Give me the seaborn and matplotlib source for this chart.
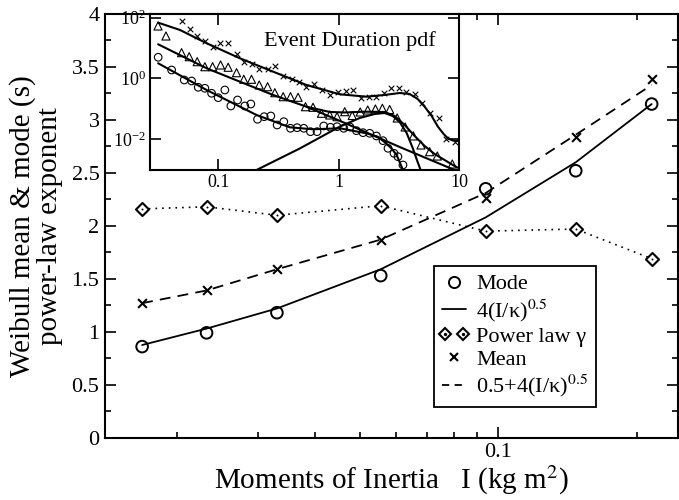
import matplotlib
matplotlib.use('Agg')
import matplotlib.pyplot as plt
import seaborn as sns
from matplotlib.lines import Line2D
from matplotlib.legend_handler import HandlerLine2D
from matplotlib.ticker import LogLocator, NullFormatter, NullLocator, MultipleLocator

# ---------------- main panel data ----------------
inertia = [0.0168, 0.0232, 0.0330, 0.0555, 0.0939, 0.1474, 0.2156]
mode_s = [0.86, 0.99, 1.18, 1.53, 2.35, 2.52, 3.15]
mean_s = [1.27, 1.39, 1.59, 1.87, 2.26, 2.84, 3.39]
gamma = [2.16, 2.18, 2.10, 2.19, 1.95, 1.97, 1.69]
fit_mode = [0.875, 1.03, 1.22, 1.59, 2.08, 2.60, 3.15]
fit_mean = [1.27, 1.39, 1.59, 1.87, 2.31, 2.86, 3.33]
y_ticks = [0, 0.5, 1, 1.5, 2, 2.5, 3, 3.5, 4]
y_tick_labels = ['0', '0.5', '1', '1.5', '2', '2.5', '3', '3.5', '4']

# ---------------- inset data (event duration pdf) ----------------
cross_x = [0.0497, 0.0583, 0.0670, 0.0776, 0.0899, 0.104, 0.120, 0.142, 0.163, 0.189, 0.219, 0.257,
           0.295, 0.346, 0.406, 0.469, 0.540, 0.621, 0.733, 0.842, 0.987, 1.143, 1.314, 1.542,
           1.782, 2.052, 2.373, 2.733, 3.159, 3.639, 4.263, 4.937, 5.75, 6.74, 7.80, 9.14]
cross_y = [76.1, 41.8, 25.0, 17.1, 10.9, 14.4, 14.4, 6.30, 3.57, 3.00, 2.01, 2.01,
           2.64, 1.21, 0.985, 0.785, 0.537, 0.659, 0.418, 0.287, 0.368, 0.397, 0.428, 0.228,
           0.241, 0.241, 0.341, 0.476, 0.476, 0.368, 0.302, 0.153, 0.0717, 0.0491, 0.0100, 0.00834]
tri_x = [0.0317, 0.0369, 0.0497, 0.0575, 0.0670, 0.0776, 0.0899, 0.1047, 0.121, 0.142, 0.163, 0.189,
         0.219, 0.257, 0.295, 0.346, 0.398, 0.460, 0.530, 0.612, 0.719, 0.842, 0.968, 1.121,
         1.294, 1.507, 1.739, 2.014, 2.301, 2.646, 3.053, 3.556, 4.159, 4.808, 5.675, 6.57, 8.75]
tri_y = [53.3, 25.0, 7.06, 5.21, 3.57, 2.44, 2.44, 2.78, 2.34, 1.55, 0.941, 0.941,
         0.611, 0.537, 0.341, 0.252, 0.252, 0.241, 0.118, 0.113, 0.0717, 0.0631, 0.0554, 0.0809,
         0.0607, 0.0791, 0.092, 0.0993, 0.1047, 0.0955, 0.0502, 0.0254, 0.0129, 0.0065, 0.00391,
         0.00282, 0.00154]
circ_x = [0.0318, 0.0411, 0.0523, 0.0602, 0.0683, 0.0776, 0.0882, 0.100, 0.1136, 0.1274, 0.1448,
          0.1664, 0.1866, 0.2120, 0.2405, 0.2733, 0.3083, 0.3502, 0.398, 0.4514, 0.5129, 0.5827,
          0.661, 0.751, 0.853, 0.968, 1.100, 1.240, 1.402, 1.590, 1.806, 2.053, 2.328, 2.562,
          2.873, 3.097, 3.410]
circ_y = [4.98, 1.90, 0.893, 0.828, 0.513, 0.476, 0.326, 0.2335, 0.418, 0.1246, 0.196,
          0.1246, 0.145, 0.0455, 0.0554, 0.0584, 0.0295, 0.0379, 0.0230, 0.0241, 0.0230, 0.0178,
          0.0178, 0.0274, 0.0248, 0.0260, 0.0230, 0.0254, 0.0192, 0.0165, 0.01575, 0.01284, 0.0090,
          0.00506, 0.00346, 0.00268, 0.00143]

fit_cross_x = [0.0318, 0.0482, 0.0802, 0.1513, 0.2857, 0.540, 1.019, 1.696, 2.405, 3.202, 3.873,
               4.513, 5.159, 5.895, 6.646, 7.413, 8.045, 8.80, 9.86]
fit_cross_y = [68.5, 39.4, 14.4, 4.62, 1.674, 0.611, 0.302, 0.252, 0.287, 0.333, 0.309,
               0.212, 0.118, 0.0584, 0.0260, 0.01494, 0.01079, 0.00914, 0.00879]
fit_tri_x = [0.0318, 0.0802, 0.1513, 0.2857, 0.540, 0.842, 1.121, 1.642, 2.405, 2.911, 3.523,
             4.263, 5.159, 6.24, 7.55, 9.14, 9.86]
fit_tri_y = [13.3, 2.165, 0.785, 0.287, 0.118, 0.0791, 0.0762, 0.0809, 0.0791, 0.0584, 0.0295,
             0.01284, 0.00602, 0.00328, 0.00208, 0.00132, 0.00114]
pl_tri_x = [0.540, 1.121, 3.202, 9.14]
pl_tri_y = [0.118, 0.0344, 0.00558, 0.000977]
weib_x = [0.208, 0.475, 1.019, 1.493, 1.987, 2.405, 2.800, 3.202, 3.659, 4.105, 4.513, 4.779]
weib_y = [0.000977, 0.00498, 0.0260, 0.0502, 0.0679, 0.0733, 0.0584, 0.0371, 0.0161, 0.00518,
          0.00179, 0.000977]
fit_circ_x = [0.0318, 0.0802, 0.208, 0.393, 0.612, 1.019, 1.696, 2.104, 2.451, 2.733, 3.024, 3.410]
fit_circ_y = [3.16, 0.418, 0.0630, 0.0248, 0.0213, 0.0230, 0.01575, 0.01218, 0.00755, 0.00506,
              0.00302, 0.000977]

# ---------------- style ----------------
sns.set_theme(style='ticks', rc={
    'axes.edgecolor': 'black', 'xtick.color': 'black', 'ytick.color': 'black',
    'text.color': 'black', 'axes.labelcolor': 'black', 'axes.linewidth': 1.5,
})
plt.rcParams['font.family'] = ['Liberation Serif', 'DejaVu Serif']
plt.rcParams['mathtext.fontset'] = 'stix'

K = 'black'
fig = plt.figure(figsize=(6.79, 5.0), dpi=100)

W, H = 679.0, 500.0
ax = fig.add_axes([105 / W, 1 - 437.7 / H, (678 - 105) / W, (437.7 - 14) / H])
ax.set_xscale('log')
ax.set_xlim(0.01395, 0.246)
ax.set_ylim(0, 4)

# lines
sns.lineplot(x=inertia, y=fit_mode, ax=ax, color=K, lw=1.3, estimator=None)
sns.lineplot(x=inertia, y=fit_mean, ax=ax, color=K, lw=1.3, estimator=None, linestyle=(0, (6, 4)))
sns.lineplot(x=inertia, y=gamma, ax=ax, color=K, lw=1.2, estimator=None, linestyle=(0, (1, 3)))
# markers
sns.scatterplot(x=inertia, y=mode_s, ax=ax, marker='o', s=70, facecolor='none', edgecolor=K,
                linewidth=1.4, zorder=5)
sns.scatterplot(x=inertia, y=mean_s, ax=ax, marker='x', s=40, color=K, linewidth=1.5, zorder=5)
sns.scatterplot(x=inertia, y=gamma, ax=ax, marker='D', s=44, facecolor='white', edgecolor=K,
                linewidth=1.5, zorder=5)
sns.scatterplot(x=inertia, y=gamma, ax=ax, marker='o', s=2, color=K, linewidth=0, zorder=6)

ax.xaxis.set_major_locator(LogLocator(base=10))
ax.xaxis.set_minor_locator(LogLocator(base=10, subs=[2, 3, 4, 5, 6, 7, 8, 9]))
ax.xaxis.set_minor_formatter(NullFormatter())
ax.set_xticks([0.1])
ax.set_xticklabels(['0.1'])
ax.set_yticks(y_ticks)
ax.set_yticklabels(y_tick_labels)
ax.yaxis.set_minor_locator(MultipleLocator(0.25))
ax.tick_params(which='both', direction='in', top=True, right=True, width=1.2, labelsize=16, pad=4)
ax.tick_params(which='major', length=8)
ax.tick_params(which='minor', length=4)
for sp in ax.spines.values():
    sp.set_linewidth(1.5)

ax.set_xlabel('Moments of Inertia   I (kg m$^2$)', fontsize=21, labelpad=1)
ax.set_ylabel('Weibull mean & mode (s)\npower-law exponent', fontsize=21, linespacing=1.05,
              labelpad=6)

# legend
h_mode = Line2D([], [], ls='none', marker='o', mfc='none', mec=K, ms=8, mew=1.4)
h_fit = Line2D([], [], color=K, lw=1.3)
h_gam = Line2D([], [], ls='none', marker='D', mfc='white', mec=K, ms=6, mew=1.5)
h_gdot = Line2D([], [], ls='none', marker='o', mfc=K, mec=K, ms=1.4)
h_mean = Line2D([], [], ls='none', marker='x', color=K, ms=6, mew=1.5)
h_fit2 = Line2D([], [], color=K, lw=1.3, ls=(0, (4, 3)))
leg = ax.legend([h_mode, h_fit, (h_gam, h_gdot), h_mean, h_fit2],
                ['Mode', '4(I/κ)$^{0.5}$', 'Power law γ', 'Mean', '0.5+4(I/κ)$^{0.5}$'],
                handler_map={h_gam: HandlerLine2D(numpoints=2, marker_pad=0.15),
                             h_gdot: HandlerLine2D(numpoints=2, marker_pad=0.15)},
                loc='lower left', bbox_to_anchor=(0.574, 0.0725), borderaxespad=0,
                fontsize=16, handlelength=1.1, handletextpad=0.45, labelspacing=0.12,
                borderpad=0.35, fancybox=False, framealpha=1, edgecolor=K, numpoints=1)
leg.get_frame().set_linewidth(1.3)

# ---------------- inset ----------------
axi = fig.add_axes([150 / W, 1 - 170 / H, (459.3 - 150) / W, (170 - 14) / H])
axi.set_facecolor('white')
axi.set_xscale('log')
axi.set_yscale('log')
axi.set_xlim(0.0272, 10)
axi.set_ylim(0.000977, 132)

for fx, fy in [(fit_cross_x, fit_cross_y), (fit_tri_x, fit_tri_y), (pl_tri_x, pl_tri_y),
               (weib_x, weib_y), (fit_circ_x, fit_circ_y)]:
    sns.lineplot(x=fx, y=fy, ax=axi, color=K, lw=1.5, estimator=None)

sns.scatterplot(x=cross_x, y=cross_y, ax=axi, marker='x', s=16, color=K, linewidth=0.8, zorder=5)
sns.scatterplot(x=tri_x, y=tri_y, ax=axi, marker='^', s=34, facecolor='none', edgecolor=K,
                linewidth=0.8, zorder=5)
sns.scatterplot(x=circ_x, y=circ_y, ax=axi, marker='o', s=30, facecolor='none', edgecolor=K,
                linewidth=0.8, zorder=5)

axi.set_xticks([0.1, 1, 10])
axi.set_xticklabels(['0.1', '1', '10'])
axi.set_yticks([1e-2, 1, 1e2])
axi.xaxis.set_minor_locator(NullLocator())
axi.yaxis.set_minor_locator(NullLocator())
axi.tick_params(which='both', direction='in', top=True, right=True, width=1.2, length=8,
                labelsize=13, pad=3)
for sp in axi.spines.values():
    sp.set_linewidth(1.5)
axi.text(0.647, 0.827, 'Event Duration pdf', transform=axi.transAxes, ha='center', va='center',
         fontsize=16)

fig.savefig('out.png', dpi=100)
